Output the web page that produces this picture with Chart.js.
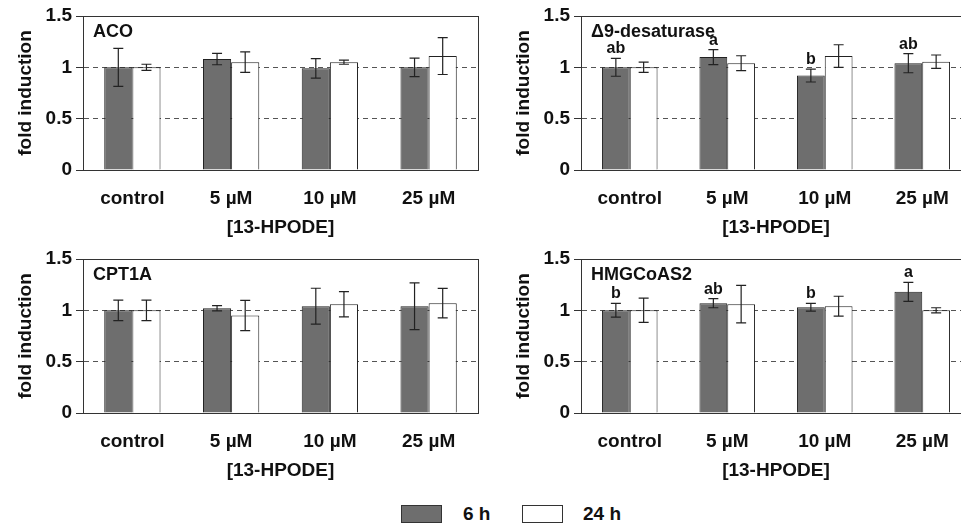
<!DOCTYPE html>
<html>
<head>
<meta charset="utf-8">
<script src="https://cdn.jsdelivr.net/npm/chart.js@4"></script>
<style>
body { margin: 0; width: 961px; height: 524px; overflow: hidden; background: #fff; position: relative; font-family: "Liberation Sans", Arial, sans-serif; }
canvas { position: absolute; }
.key { position: absolute; top: 505px; width: 41px; height: 18px; box-sizing: border-box; border: 1px solid #333; }
.keyText { position: absolute; top: 503px; font-size: 19px; font-weight: bold; color: #111; line-height: 22px; }
</style>
</head>
<body>
<canvas id="aco" width="480" height="245" style="left:0;top:0"></canvas>
<canvas id="desat" width="480" height="245" style="left:498px;top:0"></canvas>
<canvas id="cpt" width="480" height="245" style="left:0;top:243px"></canvas>
<canvas id="hmg" width="480" height="245" style="left:498px;top:243px"></canvas>

<div class="key" style="left:401px;background:#6e6e6e"></div>
<div class="keyText" style="left:463px">6 h</div>
<div class="key" style="left:522px;background:#fff"></div>
<div class="keyText" style="left:583px">24 h</div>

<script>
let doses = ['control', '5 µM', '10 µM', '25 µM']
let yTicks = [0, 0.5, 1, 1.5]
let seriesNames = ['6 h', '24 h']

// ACO
let acoMean6 = [1.00, 1.08, 0.99, 1.00]
let acoErr6 = [0.185, 0.055, 0.095, 0.09]
let acoMean24 = [1.00, 1.05, 1.05, 1.11]
let acoErr24 = [0.03, 0.10, 0.02, 0.18]

// delta 9 desaturase
let desatMean6 = [1.00, 1.10, 0.92, 1.04]
let desatErr6 = [0.087, 0.073, 0.063, 0.093]
let desatMean24 = [1.00, 1.04, 1.11, 1.055]
let desatErr24 = [0.05, 0.073, 0.11, 0.065]
let desatLetters = ['ab', 'a', 'b', 'ab']

// CPT1A
let cptMean6 = [1.00, 1.02, 1.04, 1.04]
let cptErr6 = [0.10, 0.025, 0.175, 0.227]
let cptMean24 = [1.00, 0.95, 1.06, 1.07]
let cptErr24 = [0.10, 0.147, 0.123, 0.143]

// HMGCoAS2
let hmgMean6 = [1.00, 1.07, 1.03, 1.18]
let hmgErr6 = [0.067, 0.045, 0.037, 0.093]
let hmgMean24 = [1.00, 1.06, 1.04, 1.00]
let hmgErr24 = [0.118, 0.183, 0.097, 0.025]
let hmgLetters = ['b', 'ab', 'b', 'a']

Chart.defaults.font.family = '"Liberation Sans", Arial, sans-serif'
Chart.defaults.font.weight = 'bold'
Chart.defaults.font.size = 19
Chart.defaults.color = '#111'

// box round the plot area (top and right sides)
let plotBox = {
    id: 'plotBox',
    beforeDatasetsDraw(chart) {
        let a = chart.chartArea
        let ctx = chart.ctx
        ctx.save()
        ctx.strokeStyle = '#333'
        ctx.lineWidth = 1
        ctx.strokeRect(Math.round(a.left) + 0.5, Math.round(a.top) + 0.5, Math.round(a.right - a.left), Math.round(a.bottom - a.top))
        ctx.restore()
    }
}

// error bars, letters and the gene name
let errorBars = {
    id: 'errorBars',
    afterDatasetsDraw(chart, args, opts) {
        let ctx = chart.ctx
        let y = chart.scales.y
        ctx.save()
        chart.data.datasets.forEach((ds, i) => {
            let meta = chart.getDatasetMeta(i)
            meta.data.forEach((bar, j) => {
                let top = y.getPixelForValue(ds.data[j] + ds.errors[j])
                let bottom = y.getPixelForValue(ds.data[j] - ds.errors[j])
                ctx.strokeStyle = '#222'
                ctx.lineWidth = 1.2
                ctx.beginPath()
                ctx.moveTo(bar.x, top)
                ctx.lineTo(bar.x, bottom)
                ctx.moveTo(bar.x - 5, top)
                ctx.lineTo(bar.x + 5, top)
                ctx.moveTo(bar.x - 5, bottom)
                ctx.lineTo(bar.x + 5, bottom)
                ctx.stroke()
                if (ds.letters) {
                    ctx.fillStyle = '#111'
                    ctx.font = 'bold 16px "Liberation Sans", Arial, sans-serif'
                    ctx.textAlign = 'center'
                    ctx.textBaseline = 'alphabetic'
                    ctx.fillText(ds.letters[j], bar.x, top - 5)
                }
            })
        })
        let a = chart.chartArea
        ctx.fillStyle = '#111'
        ctx.font = 'bold 18px "Liberation Sans", Arial, sans-serif'
        ctx.textAlign = 'left'
        ctx.textBaseline = 'alphabetic'
        ctx.fillText(opts.name, a.left + 10, a.top + 21)
        ctx.restore()
    }
}

function makePanel(id, name, mean6, err6, mean24, err24, letters, rightPad) {
    let ctx = document.getElementById(id).getContext('2d')
    return new Chart(ctx, {
        type: 'bar',
        data: {
            labels: doses,
            datasets: [{
                label: seriesNames[0],
                data: mean6,
                errors: err6,
                letters: letters,
                backgroundColor: '#6e6e6e',
                borderColor: '#222',
                borderWidth: 1
            }, {
                label: seriesNames[1],
                data: mean24,
                errors: err24,
                backgroundColor: '#ffffff',
                borderColor: '#222',
                borderWidth: 1
            }]
        },
        options: {
            responsive: false,
            animation: false,
            categoryPercentage: 0.57,
            barPercentage: 1.0,
            layout: { padding: { top: 16, right: rightPad, left: 0, bottom: 0 } },
            plugins: {
                legend: { display: false },
                tooltip: { enabled: false },
                errorBars: { name: name }
            },
            scales: {
                x: {
                    grid: { display: false, drawTicks: false },
                    border: { display: true, color: '#333', width: 1 },
                    ticks: { padding: 17 },
                    title: { display: true, text: '[13-HPODE]', padding: { top: 0, bottom: 6 } },
                    afterFit: scale => { scale.height = 75 }
                },
                y: {
                    min: 0,
                    max: 1.5,
                    afterBuildTicks: scale => { scale.ticks = yTicks.map(v => ({ value: v })) },
                    grid: {
                        color: c => (c.tick && (c.tick.value === 0.5 || c.tick.value === 1)) ? '#555' : 'rgba(0,0,0,0)',
                        lineWidth: 1,
                        tickLength: 7,
                        tickColor: '#333'
                    },
                    border: { display: true, color: '#333', width: 1, dash: [5, 4] },
                    ticks: { padding: 4, callback: v => String(v) },
                    title: { display: true, text: 'fold induction', padding: { top: 14, bottom: 0 } },
                    afterFit: scale => { scale.width = 83 }
                }
            }
        },
        plugins: [plotBox, errorBars]
    })
}

makePanel('aco', 'ACO', acoMean6, acoErr6, acoMean24, acoErr24, null, 2)
makePanel('desat', 'Δ9-desaturase', desatMean6, desatErr6, desatMean24, desatErr24, desatLetters, 7)
makePanel('cpt', 'CPT1A', cptMean6, cptErr6, cptMean24, cptErr24, null, 2)
makePanel('hmg', 'HMGCoAS2', hmgMean6, hmgErr6, hmgMean24, hmgErr24, hmgLetters, 7)
</script>
</body>
</html>
